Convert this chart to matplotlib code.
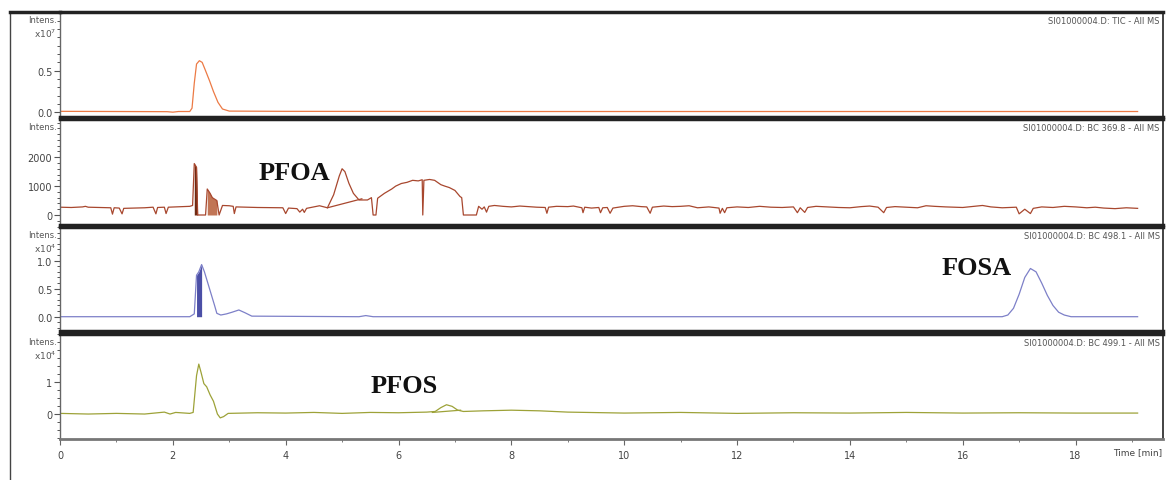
import numpy as np
import matplotlib
matplotlib.use("Agg")
import matplotlib.pyplot as plt
from matplotlib.ticker import MultipleLocator, FixedLocator
from matplotlib.lines import Line2D

# --- trace data (time in min) ---
tic_t = [0, 1.0, 1.9, 2.0, 2.1, 2.3, 2.34, 2.38, 2.42, 2.47, 2.52, 2.58, 2.65, 2.72,
         2.8, 2.88, 3.0, 4.0, 8.0, 12.0, 16.0, 19.1]
tic_v = [0.012, 0.01, 0.008, 0.002, 0.01, 0.01, 0.05, 0.35, 0.58, 0.62, 0.6, 0.5, 0.38,
         0.25, 0.12, 0.04, 0.015, 0.012, 0.01, 0.01, 0.01, 0.01]

pfoa_t = [0, 0.2, 0.4, 0.45, 0.5, 0.9, 0.93, 0.96, 1.05, 1.1, 1.13, 1.5, 1.65, 1.7, 1.73,
          1.85, 1.88, 1.92, 2.3, 2.35, 2.38, 2.42, 2.44, 2.58, 2.61, 2.66, 2.7, 2.74, 2.78,
          2.82, 2.88, 3.0, 3.07, 3.09, 3.12, 3.5, 3.95, 4.0, 4.05, 4.2, 4.25, 4.3, 4.33,
          4.37, 4.6, 4.74, 4.85, 4.95, 5.0, 5.05, 5.12, 5.2, 5.3, 5.45, 5.52, 5.55, 5.6,
          5.63, 5.75, 5.88, 5.95, 6.05, 6.15, 6.25, 6.35, 6.42, 6.43, 6.45, 6.55, 6.64,
          6.75, 6.82, 6.9, 7.0, 7.09, 7.12, 7.15, 7.38, 7.42, 7.48, 7.52, 7.56, 7.6,
          7.7, 7.85, 8.0, 8.15, 8.3, 8.45, 8.6, 8.63, 8.66, 8.8, 9.0, 9.1, 9.25, 9.27,
          9.3, 9.42, 9.55, 9.58, 9.62, 9.7, 9.75, 9.8, 9.9, 10.0, 10.15, 10.3, 10.4,
          10.46, 10.5, 10.7, 10.85, 11.0, 11.15, 11.3, 11.5, 11.68, 11.7, 11.74, 11.78,
          11.82, 12.0, 12.2, 12.4, 12.6, 12.8, 13.0, 13.07, 13.12, 13.2, 13.25, 13.4,
          13.6, 13.8, 14.0, 14.2, 14.35, 14.5, 14.6, 14.65, 14.8, 15.0, 15.2, 15.35,
          15.5, 15.7, 16.0, 16.2, 16.35, 16.5, 16.7, 16.95, 17.0, 17.1, 17.2, 17.25,
          17.4, 17.6, 17.8, 18.0, 18.2, 18.35, 18.5, 18.7, 18.9, 19.1]
pfoa_v = [270, 260, 280, 300, 270, 250, 30, 250, 240, 40, 230, 250, 270, 40, 260,
          270, 50, 270, 300, 330, 1780, 1650, 0, 0, 900, 750, 600, 550, 500,
          0, 330, 320, 300, 50, 280, 260, 250, 50, 240, 220, 100, 200, 90,
          230, 320, 250, 700, 1350, 1600, 1500, 1100, 750, 520, 520, 600, 0, 0,
          580, 750, 900, 1000, 1090, 1130, 1200, 1180, 1220, 0, 1200, 1230, 1200,
          1050, 1000, 950, 850, 640, 600, 0, 0, 300, 200, 280, 100, 300,
          330, 300, 280, 310, 290, 270, 260, 60, 270, 300, 290, 310, 250, 80,
          270, 240, 260, 80, 250, 260, 60, 240, 270, 300, 320, 290, 280,
          60, 270, 310, 290, 300, 320, 250, 280, 240, 60, 230, 80,
          250, 280, 260, 300, 270, 260, 280, 80, 250, 90, 260, 300,
          280, 260, 250, 290, 310, 270, 80, 260, 290, 270, 250, 320,
          300, 280, 260, 300, 330, 280, 250, 270, 40, 200, 50, 230,
          280, 260, 300, 280, 250, 270, 240, 220, 250, 230]
pfoa_base_t = [4.74, 5.35]
pfoa_base_v = [250, 560]

fosa_t = [0, 2.3, 2.38, 2.42, 2.46, 2.51, 2.56, 2.62, 2.68, 2.74, 2.78, 2.85, 2.95, 3.05,
          3.17, 3.28, 3.4, 5.3, 5.42, 5.55, 16.7, 16.8, 16.9, 17.0, 17.1, 17.2, 17.3,
          17.4, 17.5, 17.6, 17.7, 17.8, 17.92, 19.1]
fosa_v = [0, 0, 0.05, 0.74, 0.8, 0.93, 0.8, 0.6, 0.4, 0.2, 0.06, 0.03, 0.05, 0.08,
          0.12, 0.07, 0.01, 0.0, 0.02, 0.0, 0.0, 0.03, 0.15, 0.4, 0.7, 0.86, 0.8,
          0.6, 0.38, 0.2, 0.08, 0.03, 0.0, 0.0]

pfos_t = [0, 0.5, 1.0, 1.5, 1.85, 1.95, 2.05, 2.3, 2.36, 2.42, 2.46, 2.5, 2.55, 2.6, 2.66,
          2.72, 2.79, 2.84, 2.9, 2.98, 3.5, 4.0, 4.5, 5.0, 5.5, 6.0, 6.5, 6.65, 6.75,
          6.85, 6.95, 7.05, 7.15, 7.5, 8.0, 8.5, 9.0, 10, 11, 12, 13, 14, 15, 16, 17,
          18, 19.1]
pfos_v = [0.02, 0.0, 0.02, 0.0, 0.06, 0.0, 0.05, 0.02, 0.05, 1.2, 1.56, 1.3, 0.95, 0.85,
          0.6, 0.4, 0.0, -0.12, -0.08, 0.02, 0.04, 0.03, 0.05, 0.02, 0.05, 0.04, 0.06,
          0.08, 0.2, 0.29, 0.24, 0.12, 0.08, 0.1, 0.12, 0.1, 0.06, 0.03, 0.05, 0.02,
          0.04, 0.03, 0.05, 0.03, 0.04, 0.03, 0.03]
pfos_base_t = [6.6, 7.1]
pfos_base_v = [0.05, 0.12]

headers = ["SI01000004.D: TIC - All MS", "SI01000004.D: BC 369.8 - All MS",
           "SI01000004.D: BC 498.1 - All MS", "SI01000004.D: BC 499.1 - All MS"]
exponents = [r"x10$^7$", None, r"x10$^4$", r"x10$^4$"]

W, H = 1167, 481
fig = plt.figure(figsize=(W / 100, H / 100), dpi=100)

# panel extents in pixels (top, bottom)
rows = [(13, 118), (120, 226), (228, 332), (335, 440)]
x0, x1 = 60, 1163
axes = []
for top, bot in rows:
    ax = fig.add_axes([x0 / W, (H - bot) / H, (x1 - x0) / W, (bot - top) / H])
    axes.append(ax)

colors = ["#ec7a45", "#a8472e", "#7d80c8", "#9da238"]
series = [(tic_t, tic_v), (pfoa_t, pfoa_v), (fosa_t, fosa_v), (pfos_t, pfos_v)]
ylims = [(-0.056, 1.205), (-346, 3322), (-0.255, 1.60), (-0.78, 2.5)]
majors = [[0.0, 0.5], [0, 1000, 2000], [0.0, 0.5, 1.0], [0, 1]]
fmts = ["{:.1f}", "{:.0f}", "{:.1f}", "{:.0f}"]
minors = [0.1, 200, 0.1, 0.25]

for i, ax in enumerate(axes):
    t, v = series[i]
    ax.plot(t, v, color=colors[i], lw=0.9)
    ax.set_xlim(0, 19.55)
    ax.set_ylim(*ylims[i])
    ax.yaxis.set_major_locator(FixedLocator(majors[i]))
    ax.set_yticklabels([fmts[i].format(m) for m in majors[i]])
    ax.yaxis.set_minor_locator(MultipleLocator(minors[i]))
    ax.tick_params(axis="y", which="major", direction="out", length=4, width=0.8,
                   labelsize=7, labelcolor="#444444", color="#555555", pad=1.5)
    ax.tick_params(axis="y", which="minor", direction="out", length=2, width=0.7,
                   color="#555555")
    ax.xaxis.set_major_locator(MultipleLocator(2))
    ax.xaxis.set_minor_locator(MultipleLocator(1))
    if i < 3:
        ax.tick_params(axis="x", which="both", bottom=False, labelbottom=False)
    else:
        ax.tick_params(axis="x", which="major", direction="out", length=4,
                       labelsize=7, labelcolor="#444444", color="#666666", pad=4)
        ax.tick_params(axis="x", which="minor", direction="out", length=2,
                       color="#666666")
    for s in ("top", "bottom"):
        ax.spines[s].set_linewidth(2.5)
        ax.spines[s].set_color("#222222")
    ax.spines["left"].set_linewidth(1.0)
    ax.spines["left"].set_color("#666666")
    ax.spines["right"].set_linewidth(1.2)
    ax.spines["right"].set_color("#222222")
    ax.text(0.997, 0.96, headers[i], transform=ax.transAxes, ha="right", va="top",
            fontsize=6, color="#555555")
    ax.text(-0.003, 0.93, "Intens.", transform=ax.transAxes, ha="right", va="center",
            fontsize=6, color="#555555")
    if exponents[i]:
        ax.text(-0.003, 0.80, exponents[i], transform=ax.transAxes, ha="right",
                va="center", fontsize=6.5, color="#555555")

axes[3].spines["bottom"].set_color("#777777")
axes[3].spines["bottom"].set_linewidth(2)

# integrated peak regions
sel = [(a, b) for a, b in zip(pfoa_t, pfoa_v) if 2.36 <= a <= 2.44]
axes[1].fill_between([a for a, _ in sel], [b for _, b in sel], 0, color="#6e2a12", lw=0)
sel = [(a, b) for a, b in zip(pfoa_t, pfoa_v) if 2.6 <= a <= 2.8]
axes[1].fill_between([a for a, _ in sel], [b for _, b in sel], 0, color="#b2532a", lw=0, alpha=0.8)
axes[1].plot(pfoa_base_t, pfoa_base_v, color=colors[1], lw=0.9)
sel = [(a, b) for a, b in zip(fosa_t, fosa_v) if 2.4 <= a <= 2.51]
axes[2].fill_between([a for a, _ in sel], [b for _, b in sel], 0, color="#4b4fa6", lw=0)
axes[3].plot(pfos_base_t, pfos_base_v, color=colors[3], lw=0.9)

serif = dict(family="Liberation Serif", weight="bold", fontsize=19, color="#111111")
axes[1].text(4.15, 1480, "PFOA", ha="center", va="center", **serif)
axes[2].text(16.25, 0.88, "FOSA", ha="center", va="center", **serif)
axes[3].text(6.1, 0.9, "PFOS", ha="center", va="center", **serif)

fig.text(1138 / W, 1 - 453 / H, "Time [min]", ha="center", va="center",
         fontsize=6.5, color="#444444")

# outer frame of the screenshot
fig.add_artist(Line2D([10 / W, 10 / W], [0, 1 - 13 / H], transform=fig.transFigure,
                      color="#444444", lw=1.0))
fig.add_artist(Line2D([10 / W, x0 / W], [1 - 13 / H, 1 - 13 / H],
                      transform=fig.transFigure, color="#222222", lw=2.5))

fig.savefig("out.png", dpi=100)
